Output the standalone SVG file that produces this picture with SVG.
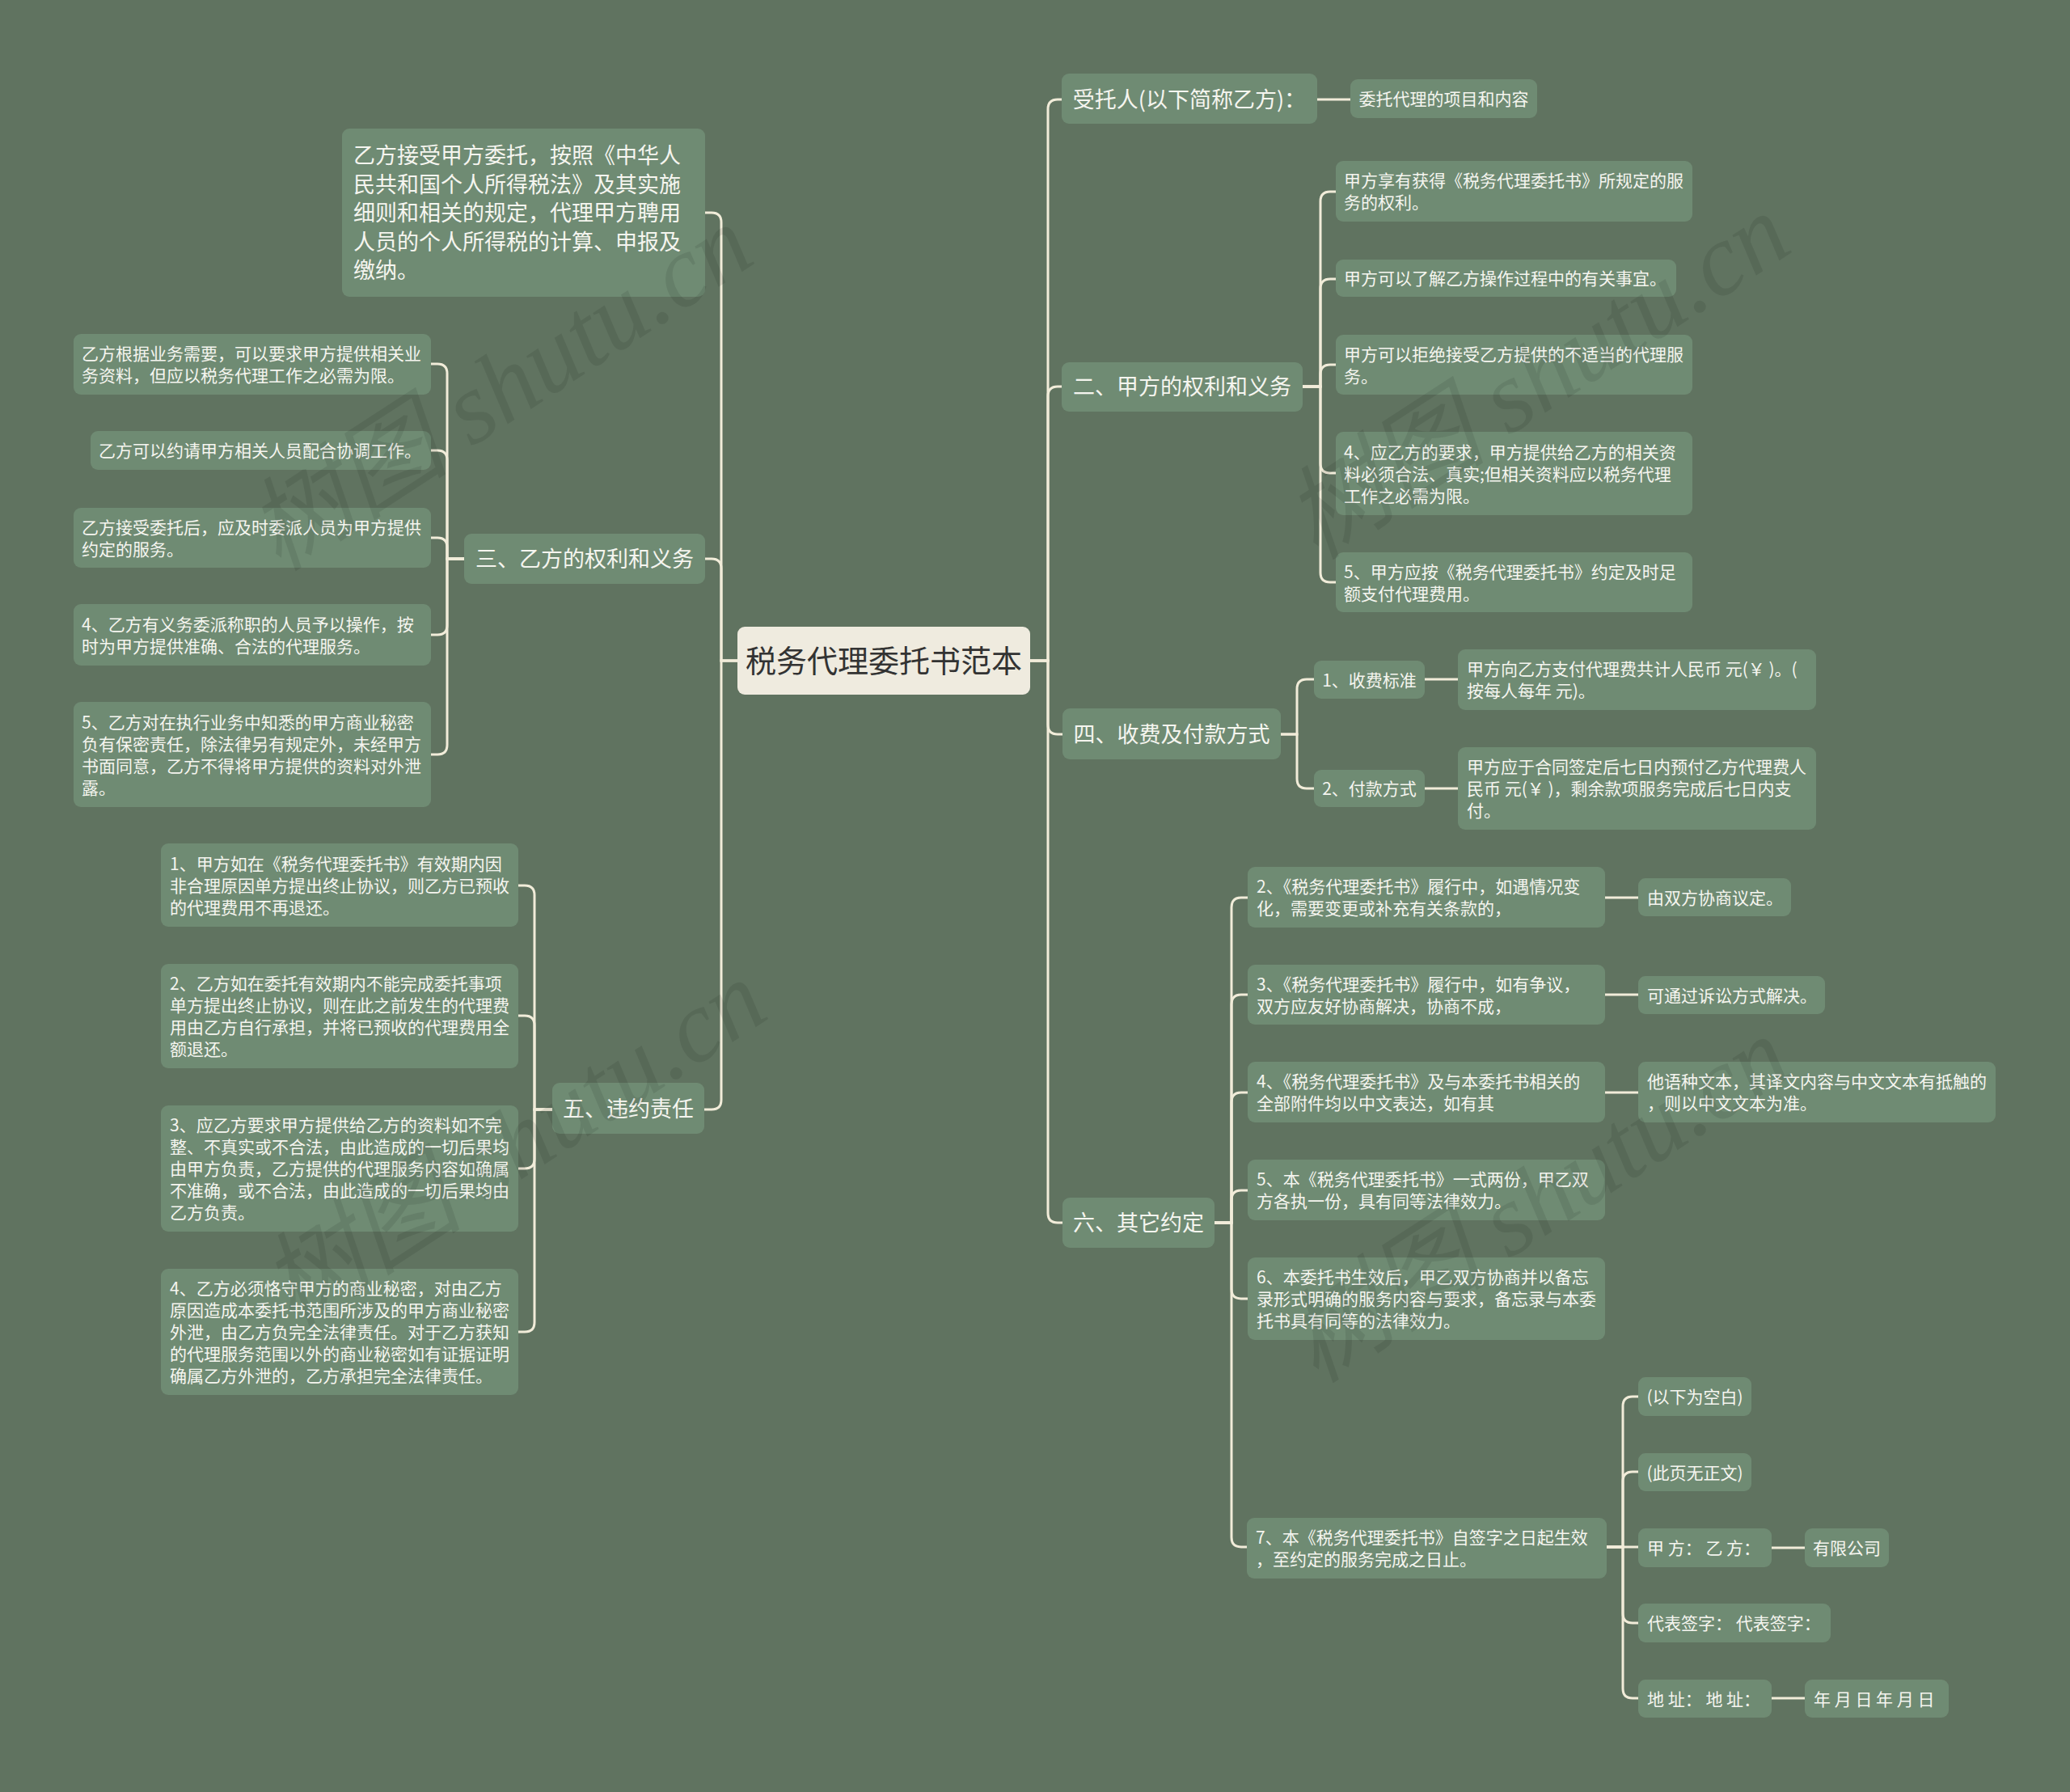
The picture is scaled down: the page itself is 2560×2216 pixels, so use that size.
<svg xmlns="http://www.w3.org/2000/svg" width="2560" height="2216" viewBox="0 0 2560 2216">
<style>
.n{fill:#6f8b73}
.r{fill:#efebdf}
.t{fill:#f5f5ef;font-family:"Noto Sans CJK SC","Liberation Sans",sans-serif;font-size:21px}
.t1{font-size:27px}
.m{text-anchor:middle}
.rt{fill:#333333;font-family:"Noto Sans CJK SC","Liberation Sans",sans-serif;font-size:38px;text-anchor:middle}
.c path{fill:none;stroke:#f1ecd9;stroke-width:3;stroke-linecap:round}
.wm{fill:#000000;fill-opacity:0.085;font-family:"Liberation Serif","Noto Sans CJK SC",serif;font-style:italic;font-size:126px}
</style>
<rect width="2560" height="2216" fill="#607360"/>

<g class="c" id="connectors">
<path d="M912,817 H892 V275 Q892,263 880,263 H872"/>
<path d="M912,817 H892 V703 Q892,691 880,691 H872"/>
<path d="M912,817 H892 V1360 Q892,1372 880,1372 H871"/>
<path d="M1274,817 H1296 V135 Q1296,123 1308,123 H1313"/>
<path d="M1274,817 H1296 V490 Q1296,478 1308,478 H1313"/>
<path d="M1274,817 H1296 V896 Q1296,908 1308,908 H1314"/>
<path d="M1274,817 H1296 V1500 Q1296,1512 1308,1512 H1314"/>
<path d="M1629,123 H1670"/>
<path d="M1611,478 H1633 V249 Q1633,237 1645,237 H1652"/>
<path d="M1611,478 H1633 V357 Q1633,345 1645,345 H1652"/>
<path d="M1611,478 H1633 V463 Q1633,451 1645,451 H1652"/>
<path d="M1611,478 H1633 V573 Q1633,585 1645,585 H1652"/>
<path d="M1611,478 H1633 V708 Q1633,720 1645,720 H1652"/>
<path d="M1584,908 H1604 V852 Q1604,840 1616,840 H1625"/>
<path d="M1584,908 H1604 V963 Q1604,975 1616,975 H1625"/>
<path d="M1762,840 H1803"/>
<path d="M1762,975 H1803"/>
<path d="M1502,1512 H1523 V1122 Q1523,1110 1535,1110 H1543"/>
<path d="M1502,1512 H1523 V1242 Q1523,1230 1535,1230 H1543"/>
<path d="M1502,1512 H1523 V1363 Q1523,1351 1535,1351 H1543"/>
<path d="M1502,1512 H1523 V1484 Q1523,1472 1535,1472 H1543"/>
<path d="M1502,1512 H1523 V1594 Q1523,1606 1535,1606 H1543"/>
<path d="M1502,1512 H1523 V1901 Q1523,1913 1535,1913 H1542"/>
<path d="M1985,1110 H2026"/>
<path d="M1985,1230 H2026"/>
<path d="M1985,1351 H2026"/>
<path d="M1987,1913 H2007 V1739 Q2007,1727 2019,1727 H2026"/>
<path d="M1987,1913 H2007 V1832 Q2007,1820 2019,1820 H2026"/>
<path d="M1987,1913 H2026"/>
<path d="M1987,1913 H2007 V1995 Q2007,2007 2019,2007 H2026"/>
<path d="M1987,1913 H2007 V2088 Q2007,2100 2019,2100 H2026"/>
<path d="M2191,1914 H2232"/>
<path d="M2191,2100 H2232"/>
<path d="M574,691 H553 V462 Q553,450 541,450 H533"/>
<path d="M574,691 H553 V569 Q553,557 541,557 H533"/>
<path d="M574,691 H553 V677 Q553,665 541,665 H533"/>
<path d="M574,691 H553 V773 Q553,785 541,785 H533"/>
<path d="M574,691 H553 V921 Q553,933 541,933 H533"/>
<path d="M683,1372 H661 V1107 Q661,1095 649,1095 H641"/>
<path d="M683,1372 H661 V1268 Q661,1256 649,1256 H641"/>
<path d="M683,1372 H661 V1433 Q661,1445 649,1445 H641"/>
<path d="M683,1372 H661 V1635 Q661,1647 649,1647 H641"/>
</g>

<g id="root">
<rect class="r" x="912" y="775" width="362" height="84" rx="9"/>
<text class="rt" x="1093" y="831">税务代理委托书范本</text>
</g>

<g id="n-a">
<rect class="n" x="423" y="159" width="449" height="208" rx="9"/>
<text class="t t1" x="437"><tspan x="437" y="202">乙方接受甲方委托，按照《中华人</tspan><tspan x="437" y="237.5">民共和国个人所得税法》及其实施</tspan><tspan x="437" y="273">细则和相关的规定，代理甲方聘用</tspan><tspan x="437" y="308.5">人员的个人所得税的计算、申报及</tspan><tspan x="437" y="344">缴纳。</tspan></text>
</g>

<g id="n-san">
<rect class="n" x="574" y="660" width="298" height="62" rx="9"/>
<text class="t t1 m" x="723" y="701">三、乙方的权利和义务</text>
</g>
<g id="n-san-1">
<rect class="n" x="91" y="413" width="442" height="75" rx="9"/>
<text class="t"><tspan x="101" y="445">乙方根据业务需要，可以要求甲方提供相关业</tspan><tspan x="101" y="472">务资料，但应以税务代理工作之必需为限。</tspan></text>
</g>
<g id="n-san-2">
<rect class="n" x="112" y="533" width="421" height="48" rx="9"/>
<text class="t" x="122" y="565">乙方可以约请甲方相关人员配合协调工作。</text>
</g>
<g id="n-san-3">
<rect class="n" x="91" y="628" width="442" height="74" rx="9"/>
<text class="t"><tspan x="101" y="659.5">乙方接受委托后，应及时委派人员为甲方提供</tspan><tspan x="101" y="686.5">约定的服务。</tspan></text>
</g>
<g id="n-san-4">
<rect class="n" x="91" y="747" width="442" height="76" rx="9"/>
<text class="t"><tspan x="101" y="779.5">4、乙方有义务委派称职的人员予以操作，按</tspan><tspan x="101" y="806.5">时为甲方提供准确、合法的代理服务。</tspan></text>
</g>
<g id="n-san-5">
<rect class="n" x="91" y="868" width="442" height="130" rx="9"/>
<text class="t"><tspan x="101" y="900.5">5、乙方对在执行业务中知悉的甲方商业秘密</tspan><tspan x="101" y="927.5">负有保密责任，除法律另有规定外，未经甲方</tspan><tspan x="101" y="954.5">书面同意，乙方不得将甲方提供的资料对外泄</tspan><tspan x="101" y="981.5">露。</tspan></text>
</g>

<g id="n-wu">
<rect class="n" x="683" y="1339" width="188" height="63" rx="9"/>
<text class="t t1 m" x="777" y="1381">五、违约责任</text>
</g>
<g id="n-wu-1">
<rect class="n" x="199" y="1043" width="442" height="103" rx="9"/>
<text class="t"><tspan x="210" y="1075.5">1、甲方如在《税务代理委托书》有效期内因</tspan><tspan x="210" y="1102.5">非合理原因单方提出终止协议，则乙方已预收</tspan><tspan x="210" y="1129.5">的代理费用不再退还。</tspan></text>
</g>
<g id="n-wu-2">
<rect class="n" x="199" y="1192" width="442" height="129" rx="9"/>
<text class="t"><tspan x="210" y="1224">2、乙方如在委托有效期内不能完成委托事项</tspan><tspan x="210" y="1251">单方提出终止协议，则在此之前发生的代理费</tspan><tspan x="210" y="1278">用由乙方自行承担，并将已预收的代理费用全</tspan><tspan x="210" y="1305">额退还。</tspan></text>
</g>
<g id="n-wu-3">
<rect class="n" x="199" y="1367" width="442" height="156" rx="9"/>
<text class="t"><tspan x="210" y="1399">3、应乙方要求甲方提供给乙方的资料如不完</tspan><tspan x="210" y="1426">整、不真实或不合法，由此造成的一切后果均</tspan><tspan x="210" y="1453">由甲方负责，乙方提供的代理服务内容如确属</tspan><tspan x="210" y="1480">不准确，或不合法，由此造成的一切后果均由</tspan><tspan x="210" y="1507">乙方负责。</tspan></text>
</g>
<g id="n-wu-4">
<rect class="n" x="199" y="1569" width="442" height="156" rx="9"/>
<text class="t"><tspan x="210" y="1601">4、乙方必须恪守甲方的商业秘密，对由乙方</tspan><tspan x="210" y="1628">原因造成本委托书范围所涉及的甲方商业秘密</tspan><tspan x="210" y="1655">外泄，由乙方负完全法律责任。对于乙方获知</tspan><tspan x="210" y="1682">的代理服务范围以外的商业秘密如有证据证明</tspan><tspan x="210" y="1709">确属乙方外泄的，乙方承担完全法律责任。</tspan></text>
</g>

<g id="n-st">
<rect class="n" x="1313" y="91" width="316" height="62" rx="9"/>
<text class="t t1 m" x="1471" y="133">受托人(以下简称乙方)：</text>
</g>
<g id="n-st-1">
<rect class="n" x="1670" y="98" width="231" height="48" rx="9"/>
<text class="t m" x="1785.5" y="130">委托代理的项目和内容</text>
</g>

<g id="n-er">
<rect class="n" x="1313" y="448" width="298" height="61" rx="9"/>
<text class="t t1 m" x="1462" y="488">二、甲方的权利和义务</text>
</g>
<g id="n-er-1">
<rect class="n" x="1652" y="199" width="441" height="75" rx="9"/>
<text class="t"><tspan x="1662" y="231">甲方享有获得《税务代理委托书》所规定的服</tspan><tspan x="1662" y="258">务的权利。</tspan></text>
</g>
<g id="n-er-2">
<rect class="n" x="1652" y="321" width="421" height="46" rx="9"/>
<text class="t" x="1662" y="352">甲方可以了解乙方操作过程中的有关事宜。</text>
</g>
<g id="n-er-3">
<rect class="n" x="1652" y="414" width="441" height="74" rx="9"/>
<text class="t"><tspan x="1662" y="445.5">甲方可以拒绝接受乙方提供的不适当的代理服</tspan><tspan x="1662" y="472.5">务。</tspan></text>
</g>
<g id="n-er-4">
<rect class="n" x="1652" y="534" width="441" height="103" rx="9"/>
<text class="t"><tspan x="1662" y="566.5">4、应乙方的要求，甲方提供给乙方的相关资</tspan><tspan x="1662" y="593.5">料必须合法、真实;但相关资料应以税务代理</tspan><tspan x="1662" y="620.5">工作之必需为限。</tspan></text>
</g>
<g id="n-er-5">
<rect class="n" x="1652" y="683" width="441" height="74" rx="9"/>
<text class="t"><tspan x="1662" y="714.5">5、甲方应按《税务代理委托书》约定及时足</tspan><tspan x="1662" y="741.5">额支付代理费用。</tspan></text>
</g>

<g id="n-si">
<rect class="n" x="1314" y="876" width="270" height="63" rx="9"/>
<text class="t t1 m" x="1449" y="918">四、收费及付款方式</text>
</g>
<g id="n-si-1">
<rect class="n" x="1625" y="817" width="137" height="47" rx="9"/>
<text class="t m" x="1693.5" y="848.5">1、收费标准</text>
</g>
<g id="n-si-1-1">
<rect class="n" x="1803" y="803" width="443" height="75" rx="9"/>
<text class="t"><tspan x="1814" y="835">甲方向乙方支付代理费共计人民币 元(￥ )。(</tspan><tspan x="1814" y="862">按每人每年 元)。</tspan></text>
</g>
<g id="n-si-2">
<rect class="n" x="1625" y="952" width="137" height="46" rx="9"/>
<text class="t m" x="1693.5" y="983">2、付款方式</text>
</g>
<g id="n-si-2-1">
<rect class="n" x="1803" y="924" width="443" height="102" rx="9"/>
<text class="t"><tspan x="1814" y="956">甲方应于合同签定后七日内预付乙方代理费人</tspan><tspan x="1814" y="983">民币 元(￥ )，剩余款项服务完成后七日内支</tspan><tspan x="1814" y="1010">付。</tspan></text>
</g>

<g id="n-liu">
<rect class="n" x="1314" y="1481" width="188" height="62" rx="9"/>
<text class="t t1 m" x="1408" y="1522">六、其它约定</text>
</g>
<g id="n-liu-2">
<rect class="n" x="1543" y="1072" width="442" height="75" rx="9"/>
<text class="t"><tspan x="1554" y="1104">2、《税务代理委托书》履行中，如遇情况变</tspan><tspan x="1554" y="1131">化，需要变更或补充有关条款的，</tspan></text>
</g>
<g id="n-liu-2-1">
<rect class="n" x="2026" y="1086" width="189" height="47" rx="9"/>
<text class="t" x="2037" y="1117.5">由双方协商议定。</text>
</g>
<g id="n-liu-3">
<rect class="n" x="1543" y="1193" width="442" height="74" rx="9"/>
<text class="t"><tspan x="1554" y="1224.5">3、《税务代理委托书》履行中，如有争议，</tspan><tspan x="1554" y="1251.5">双方应友好协商解决，协商不成，</tspan></text>
</g>
<g id="n-liu-3-1">
<rect class="n" x="2026" y="1207" width="231" height="47" rx="9"/>
<text class="t" x="2037" y="1238.5">可通过诉讼方式解决。</text>
</g>
<g id="n-liu-4">
<rect class="n" x="1543" y="1313" width="442" height="75" rx="9"/>
<text class="t"><tspan x="1554" y="1345">4、《税务代理委托书》及与本委托书相关的</tspan><tspan x="1554" y="1372">全部附件均以中文表达，如有其</tspan></text>
</g>
<g id="n-liu-4-1">
<rect class="n" x="2026" y="1313" width="442" height="75" rx="9"/>
<text class="t"><tspan x="2037" y="1345">他语种文本，其译文内容与中文文本有抵触的</tspan><tspan x="2037" y="1372">，则以中文文本为准。</tspan></text>
</g>
<g id="n-liu-5">
<rect class="n" x="1543" y="1434" width="442" height="75" rx="9"/>
<text class="t"><tspan x="1554" y="1466">5、本《税务代理委托书》一式两份，甲乙双</tspan><tspan x="1554" y="1493">方各执一份，具有同等法律效力。</tspan></text>
</g>
<g id="n-liu-6">
<rect class="n" x="1543" y="1555" width="442" height="102" rx="9"/>
<text class="t"><tspan x="1554" y="1587">6、本委托书生效后，甲乙双方协商并以备忘</tspan><tspan x="1554" y="1614">录形式明确的服务内容与要求，备忘录与本委</tspan><tspan x="1554" y="1641">托书具有同等的法律效力。</tspan></text>
</g>
<g id="n-liu-7">
<rect class="n" x="1542" y="1877" width="445" height="75" rx="9"/>
<text class="t"><tspan x="1553" y="1909">7、本《税务代理委托书》自签字之日起生效</tspan><tspan x="1553" y="1936">，至约定的服务完成之日止。</tspan></text>
</g>
<g id="n-liu-7-1">
<rect class="n" x="2026" y="1703" width="140" height="48" rx="9"/>
<text class="t m" x="2096" y="1735">(以下为空白)</text>
</g>
<g id="n-liu-7-2">
<rect class="n" x="2026" y="1797" width="140" height="47" rx="9"/>
<text class="t m" x="2096" y="1828.5">(此页无正文)</text>
</g>
<g id="n-liu-7-3">
<rect class="n" x="2026" y="1890" width="165" height="48" rx="9"/>
<text class="t" x="2037" y="1922">甲 方： 乙 方：</text>
</g>
<g id="n-liu-7-3-1">
<rect class="n" x="2232" y="1890" width="104" height="48" rx="9"/>
<text class="t m" x="2284" y="1922">有限公司</text>
</g>
<g id="n-liu-7-4">
<rect class="n" x="2026" y="1983" width="238" height="48" rx="9"/>
<text class="t" x="2037" y="2015">代表签字： 代表签字：</text>
</g>
<g id="n-liu-7-5">
<rect class="n" x="2026" y="2077" width="165" height="47" rx="9"/>
<text class="t" x="2037" y="2108.5">地 址： 地 址：</text>
</g>
<g id="n-liu-7-5-1">
<rect class="n" x="2232" y="2077" width="178" height="47" rx="9"/>
<text class="t" x="2243" y="2108.5">年 月 日 年 月 日</text>
</g>

<g id="watermarks">
<text class="wm" transform="translate(345,708) rotate(-33)">树图 shutu.cn</text>
<text class="wm" transform="translate(362,1642) rotate(-33)">树图 shutu.cn</text>
<text class="wm" transform="translate(1628,694) rotate(-33)">树图 shutu.cn</text>
<text class="wm" transform="translate(1628,1712) rotate(-33)">树图 shutu.cn</text>
</g>
</svg>
